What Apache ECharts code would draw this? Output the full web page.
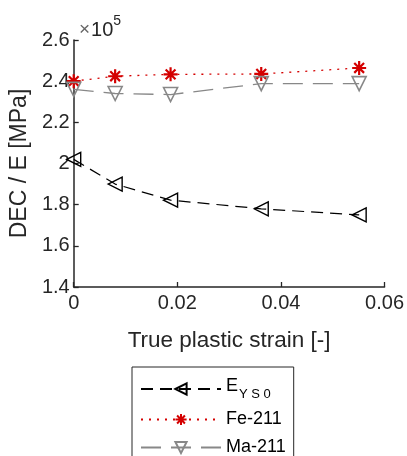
<!DOCTYPE html>
<html>
<head>
<meta charset="utf-8">
<script src="https://cdn.jsdelivr.net/npm/echarts@6/dist/echarts.min.js"></script>
<style>
html, body { margin: 0; padding: 0; background: #fff; }
#chart { width: 407px; height: 456px; }
</style>
</head>
<body>
<div id="chart"></div>
<script>
// strain values [-]
var strainYS0 = [0, 0.008, 0.0187, 0.0362, 0.0551];
var strainFe = [0, 0.008, 0.0187, 0.0362, 0.0551];
var strainMa = [0, 0.008, 0.0187, 0.0362, 0.0551];
// DEC / E [MPa]
var decYS0 = [2.02e5, 1.90e5, 1.822e5, 1.78e5, 1.75e5];
var decFe = [2.40e5, 2.424e5, 2.433e5, 2.435e5, 2.464e5];
var decMa = [2.36e5, 2.34e5, 2.335e5, 2.388e5, 2.388e5];
var yTicks = [1.4, 1.6, 1.8, 2, 2.2, 2.4, 2.6];
var xTicks = [0, 0.02, 0.04, 0.06];

function pairs(xs, ys) {
    var out = [];
    for (var i = 0; i < xs.length; i++) {
        out.push([xs[i], ys[i]]);
    }
    return out;
}

var asterisk = 'path://M10,0L10,20M0,10L20,10M3,3L17,17M3,17L17,3';
var axisCol = '#262626';
var font = 'Liberation Sans, Arial, sans-serif';

var myChart = echarts.init(document.getElementById('chart'));
var option = {
    animation: false,
    title: {
        text: '{x|\u00d7}{b|10}{s|5}',
        left: 74,
        top: 9,
        textStyle: {
            rich: {
                x: { fontSize: 19, fontWeight: 'normal', color: '#666', fontFamily: font, padding: [6, 1, 0, 0] },
                b: { fontSize: 20, fontWeight: 'normal', color: axisCol, fontFamily: font, padding: [6, 0, 0, 0] },
                s: { fontSize: 14, fontWeight: 'normal', color: axisCol, fontFamily: font, padding: [0, 0, 12, 0] }
            }
        }
    },
    grid: { left: 72, right: 20, top: 40, bottom: 169 },
    legend: {
        orient: 'vertical',
        left: 132,
        top: 367,
        width: 168,
        height: 140,
        padding: [10, 8, 30, 8],
        itemGap: 10,
        itemWidth: 80,
        itemHeight: 14,
        borderColor: axisCol,
        borderWidth: 1,
        borderRadius: 0,
        data: ['YS0', 'Fe-211', 'Ma-211'],
        formatter: function (name) {
            if (name === 'YS0') return '{e|E}{sub|Y S 0}';
            return '{n|' + name + '}';
        },
        textStyle: {
            fontFamily: font,
            fontSize: 18,
            color: '#000',
            rich: {
                e: { fontSize: 18, fontFamily: font, color: '#000', padding: [0, 0, 6, 0] },
                sub: { fontSize: 13, fontFamily: font, color: '#000', padding: [10, 0, 0, 1] },
                n: { fontSize: 18, fontFamily: font, color: '#000' }
            }
        }
    },
    xAxis: {
        type: 'value',
        min: 0,
        max: 0.06,
        interval: 0.02,
        name: 'True plastic strain [-]',
        nameLocation: 'middle',
        nameGap: 42,
        nameTextStyle: { fontSize: 22.5, fontFamily: font, color: axisCol },
        axisLine: { lineStyle: { color: axisCol, width: 1.5 } },
        axisTick: { inside: true, length: 5, lineStyle: { color: axisCol, width: 1.3 } },
        splitLine: { show: false },
        axisLabel: {
            fontSize: 20, fontFamily: font, color: axisCol, margin: 6,
            formatter: function (v) { return xTicks.indexOf(+v.toFixed(2)) >= 0 ? String(+v.toFixed(2)) : ''; }
        }
    },
    yAxis: {
        type: 'value',
        min: 1.4e5,
        max: 2.6e5,
        interval: 0.2e5,
        name: 'DEC / E [MPa]',
        nameLocation: 'middle',
        nameGap: 35,
        nameTextStyle: { fontSize: 23, fontFamily: font, color: axisCol },
        axisLine: { show: true, lineStyle: { color: axisCol, width: 1.5 } },
        axisTick: { show: true, inside: true, length: 5, lineStyle: { color: axisCol, width: 1.3 } },
        splitLine: { show: false },
        axisLabel: {
            fontSize: 20, fontFamily: font, color: axisCol, margin: 4,
            formatter: function (v) { return String(+(v / 1e5).toFixed(1)); }
        }
    },
    series: [
        {
            name: 'YS0',
            type: 'line',
            data: pairs(strainYS0, decYS0),
            symbol: 'triangle',
            symbolRotate: 90,
            symbolSize: 14,
            lineStyle: { color: '#000', width: 1.2, type: [12, 7] },
            itemStyle: { color: 'rgba(0,0,0,0)', borderColor: '#000', borderWidth: 1.4 }
        },
        {
            name: 'Fe-211',
            type: 'line',
            data: pairs(strainFe, decFe),
            symbol: asterisk,
            symbolSize: 14,
            lineStyle: { color: '#d40000', width: 1.3, type: [2, 6] },
            itemStyle: { color: '#d40000', borderColor: '#d40000', borderWidth: 2.2 }
        },
        {
            name: 'Ma-211',
            type: 'line',
            data: pairs(strainMa, decMa),
            symbol: 'triangle',
            symbolRotate: 180,
            symbolSize: 14,
            lineStyle: { color: '#888', width: 1.3, type: [20, 10] },
            itemStyle: { color: 'rgba(0,0,0,0)', borderColor: '#888', borderWidth: 1.6 }
        }
    ]
};
myChart.setOption(option);
</script>
</body>
</html>
